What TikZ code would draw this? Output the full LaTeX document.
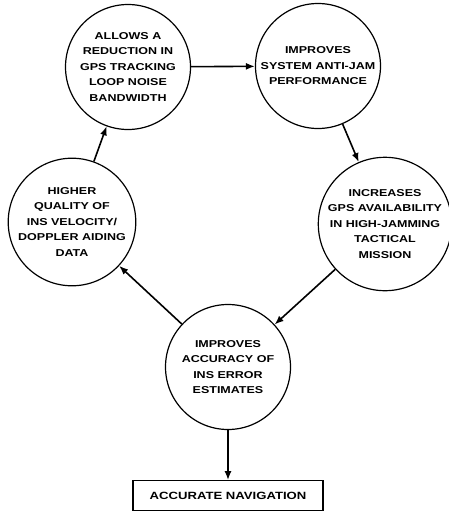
\documentclass[tikz,border=0pt]{standalone}
\usepackage{fontspec}
\setmainfont[FakeStretch=1.25]{Liberation Sans}
\usetikzlibrary{positioning,arrows.meta}
\tikzset{idea node/.style={circle,draw,line width=1.2pt,minimum size=125pt,inner sep=0pt,align=center,font=\fontsize{10}{15.5}\selectfont\bfseries}}
\tikzset{result node/.style={rectangle,draw,line width=1.2pt,minimum width=190pt,minimum height=30pt,font=\fontsize{10.5}{12}\selectfont\bfseries}}

\begin{document}
\begin{tikzpicture}[x=1pt,y=-1pt]
        \useasboundingbox (0,0) rectangle (449,512);
        \node[idea node] (1) at (128,67) {ALLOWS A\\REDUCTION IN\\GPS TRACKING\\LOOP NOISE\\BANDWIDTH};
        \node[idea node] (2) at (318,66) {IMPROVES\\SYSTEM ANTI-JAM\\PERFORMANCE};
        \node[idea node] (3) at (385,224) {INCREASES\\GPS AVAILABILITY\\IN HIGH-JAMMING\\TACTICAL\\MISSION};
        \node[idea node] (4) at (72,222) {HIGHER\\QUALITY OF\\INS VELOCITY/\\DOPPLER AIDING\\DATA};
        \node[idea node] (5) at (228,367) {IMPROVES\\ACCURACY OF\\INS ERROR\\ESTIMATES};
        \node[result node] (6) [below = 50pt of 5] {ACCURATE NAVIGATION};

        \path[draw, line width=1.6pt, -{Latex[length=9pt,width=7pt]}]
        (1) edge (2)
        (2) edge (3)
        (3) edge (5)
        (5) edge (4)
        (4) edge (1)
        (5) edge (6);
    \end{tikzpicture}
\end{document}
